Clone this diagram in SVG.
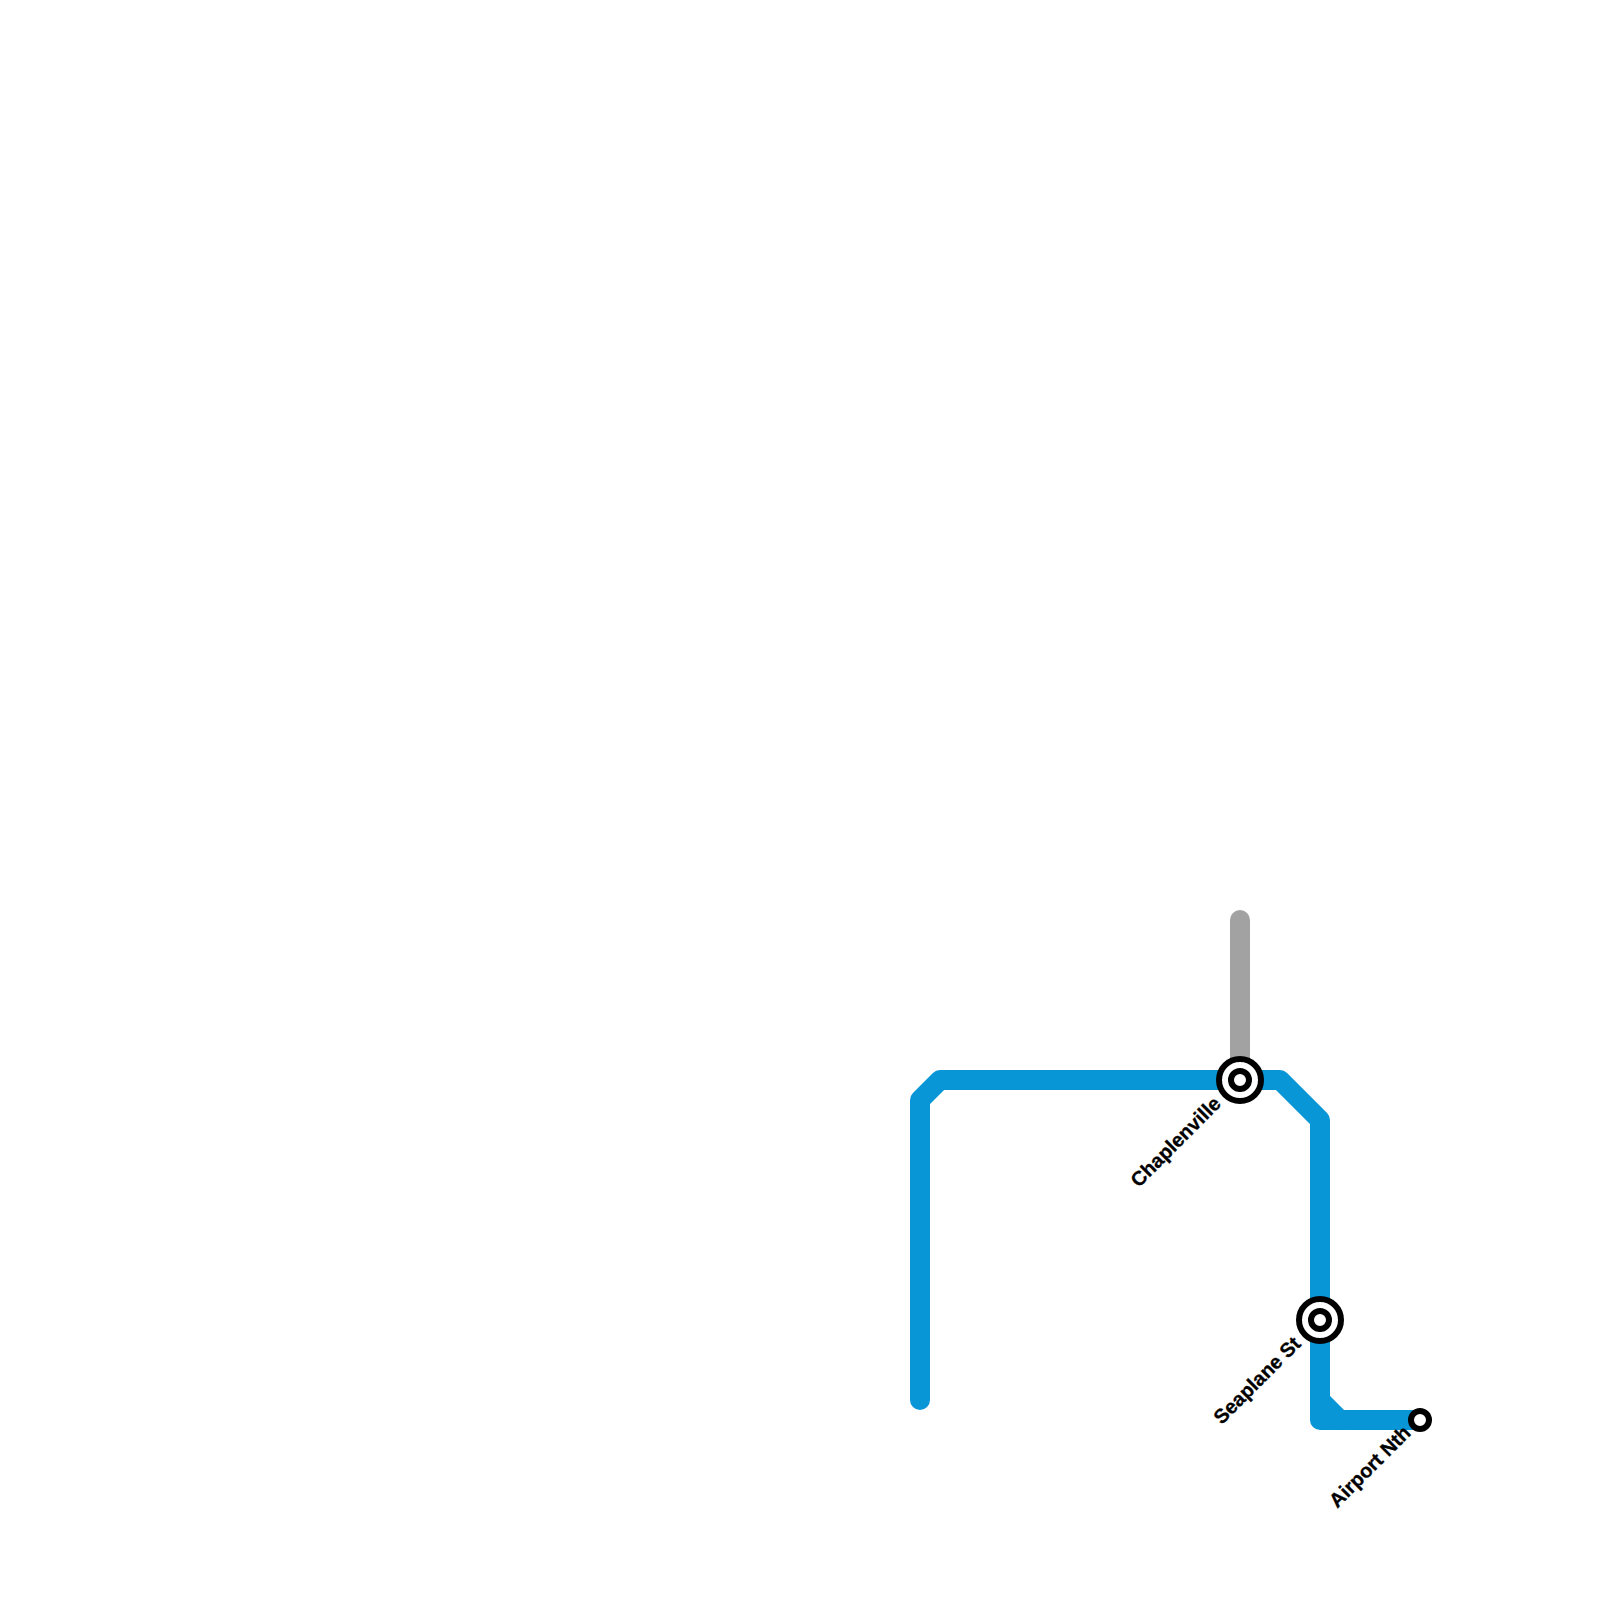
<svg xmlns="http://www.w3.org/2000/svg" width="1600" height="1600" viewBox="0 0 1600 1600">
<style>
.line{fill:none;stroke-width:20;stroke-linecap:round;stroke-linejoin:round}
.blue{stroke:#0896d7}
.grey{stroke:#a2a2a2}
.ring{fill:#fff;stroke:#000;stroke-width:6}
.label{font-family:"Liberation Sans",Arial,sans-serif;font-size:20px;font-weight:700;fill:#000;stroke:#000;stroke-width:.3;text-anchor:end;text-rendering:geometricPrecision}
</style>
<rect width="1600" height="1600" fill="#fff"/>
<g id="connectors">
<path class="line grey" d="M1240 920V1080"/>
<path class="line blue" d="M920 1400V1100L940 1080H1280L1320 1120V1420H1420"/>
<path class="line blue" d="M1320 1400L1340 1420"/>
</g>
<g id="chaplenville">
<circle class="ring" cx="1240" cy="1080" r="21"/>
<circle class="ring" cx="1240" cy="1080" r="9"/>
<text class="label" transform="translate(1222 1105) rotate(-45)">Chaplenville</text>
</g>
<g id="seaplane-st">
<circle class="ring" cx="1320" cy="1320" r="21"/>
<circle class="ring" cx="1320" cy="1320" r="9"/>
<text class="label" transform="translate(1302 1345) rotate(-45)">Seaplane St</text>
</g>
<g id="airport-nth">
<circle class="ring" cx="1420" cy="1420" r="9"/>
<text class="label" transform="translate(1412 1434) rotate(-45)">Airport Nth</text>
</g>
</svg>
